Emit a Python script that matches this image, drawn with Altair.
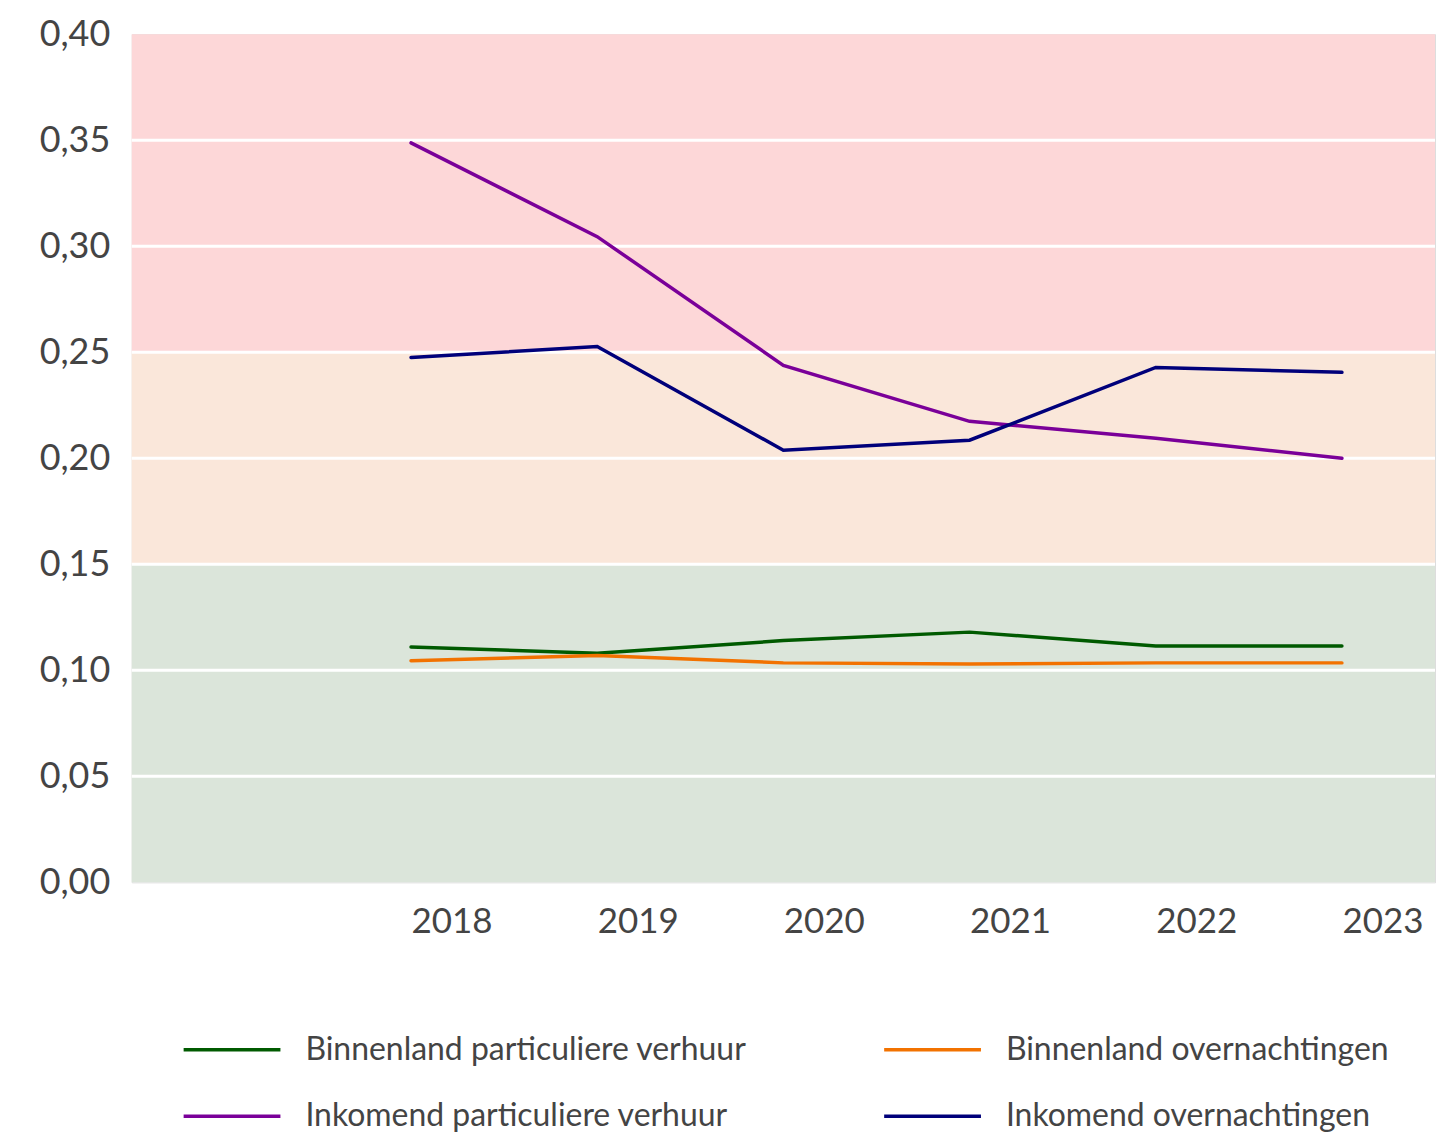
import altair as alt
import pandas as pd

years = [2018, 2019, 2020, 2021, 2022, 2023]
series_names = [
    "Binnenland particuliere verhuur",
    "Binnenland overnachtingen",
    "Inkomend particuliere verhuur",
    "Inkomend overnachtingen",
]
binnenland_particulier = [0.111, 0.108, 0.114, 0.118, 0.1115, 0.1115]
binnenland_overnacht = [0.1045, 0.107, 0.1035, 0.103, 0.1035, 0.1035]
inkomend_particulier = [0.3487, 0.3045, 0.2438, 0.2174, 0.2094, 0.2000]
inkomend_overnacht = [0.2475, 0.2527, 0.2038, 0.2085, 0.2428, 0.2405]
series_colors = ["#005a00", "#f27200", "#7a0099", "#00007a"]

band_low = [0.0, 0.15, 0.25]
band_high = [0.15, 0.25, 0.40]
band_colors = ["#dbe5da", "#fae7da", "#fdd7d8"]
y_ticks = [0.0, 0.05, 0.10, 0.15, 0.20, 0.25, 0.30, 0.35, 0.40]

FONT = "Lato"
TEXT = "#444444"

rows = []
for name, vals in zip(series_names, [binnenland_particulier, binnenland_overnacht,
                                      inkomend_particulier, inkomend_overnacht]):
    for yr, v in zip(years, vals):
        rows.append({"jaar": yr, "waarde": v, "reeks": name})
df = pd.DataFrame(rows)

# legend order (vega lays legend columns out column by column here)
legend_order = [series_names[0], series_names[2], series_names[1], series_names[3]]
legend_colors = [series_colors[0], series_colors[2], series_colors[1], series_colors[3]]

bands = pd.DataFrame({"lo": band_low, "hi": band_high, "kleur": band_colors})
grid = pd.DataFrame({"y": y_ticks[1:-1]})

xscale = alt.Scale(domain=[2016.5, 2023.5], nice=False, zero=False)
yscale = alt.Scale(domain=[0, 0.4], nice=False)

rect = alt.Chart(bands).mark_rect().encode(
    x=alt.value(0),
    x2=alt.value("width"),
    y=alt.Y("lo:Q", scale=yscale,
            axis=alt.Axis(values=y_ticks, format=".2f",
                          labelExpr="replace(datum.label, '.', ',')",
                          labelFontSize=36, labelColor=TEXT, labelFont=FONT,
                          labelPadding=22, domain=False, ticks=False, grid=False,
                          title=None)),
    y2="hi:Q",
    color=alt.Color("kleur:N", scale=None),
)

rules = alt.Chart(grid).mark_rule(color="white", strokeWidth=3).encode(
    y=alt.Y("y:Q", scale=yscale),
)

lines = alt.Chart(df).mark_line(strokeWidth=3.5, strokeCap="round").encode(
    x=alt.X("jaar:Q", scale=xscale,
            axis=alt.Axis(values=years, format="d", labelAlign="left",
                          labelFontSize=35, labelColor=TEXT, labelFont=FONT,
                          labelPadding=22, labelFlush=False, labelOverlap=False,
                          domain=False, ticks=False, grid=False, title=None)),
    y=alt.Y("waarde:Q", scale=yscale),
    color=alt.Color("reeks:N",
                    scale=alt.Scale(domain=legend_order, range=legend_colors),
                    legend=alt.Legend(title=None, orient="none", legendX=50, legendY=967,
                                      columns=2, symbolType="stroke", symbolSize=9409,
                                      symbolStrokeWidth=3.5, labelFontSize=32,
                                      labelFont=FONT, labelColor=TEXT, labelOffset=23,
                                      columnPadding=130, rowPadding=-35,
                                      labelLimit=800)),
    detail="reeks:N",
)

chart = alt.layer(rect, rules, lines).properties(
    width=1306, height=850,
    padding={"left": 31, "top": 7, "right": 0, "bottom": 5},
).configure_view(stroke=None).configure(font=FONT)

chart.save("out.html", embed_options={"renderer": "svg", "actions": False})
